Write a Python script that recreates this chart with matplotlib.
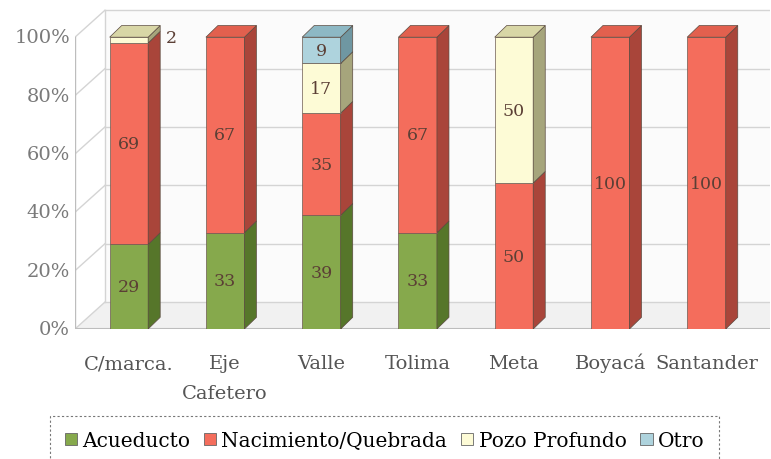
import matplotlib.pyplot as plt
from matplotlib.patches import Polygon, Rectangle
import numpy as np

regions = ['C/marca.', 'Eje\nCafetero', 'Valle', 'Tolima', 'Meta', 'Boyacá', 'Santander']
acueducto = [29, 33, 39, 33, 0, 0, 0]
nacimiento = [69, 67, 35, 67, 50, 100, 100]
pozo = [2, 0, 17, 0, 50, 0, 0]
otro = [0, 0, 9, 0, 0, 0, 0]
series = ['Acueducto', 'Nacimiento/Quebrada', 'Pozo Profundo', 'Otro']
yticks = [0, 20, 40, 60, 80, 100]

# front, side, top colours for each series
front = ['#86a94c', '#f46d5c', '#fdfbd6', '#aed3dd']
side = ['#56762a', '#a9453a', '#a6a57c', '#6f97a2']
top = ['#a3c262', '#e2604e', '#d8d6a6', '#8db8c4']

plt.rcParams['font.family'] = ['DejaVu Serif']

fig = plt.figure(figsize=(7.71, 4.60), dpi=100)
ax = fig.add_axes([75 / 771, 130 / 460, 695 / 771, 321 / 460])
ax.set_xlim(-0.56, 6.66)
ax.set_ylim(0, 110)
ax.axis('off')

wx, wy = 0.31, 9.2   # back wall offset
bw = 0.40            # bar width
dx, dy = 0.125, 4.0  # bar depth
x0 = -0.56

# walls and floor
grid = '#d4d4d4'
ax.add_patch(Polygon([(x0, 0), (x0 + wx, wy), (6.66, wy), (6.66, 0)],
                     closed=True, fc='#f1f1f1', ec='none', zorder=0))
ax.add_patch(Rectangle((x0 + wx, wy), 6.66 - x0 - wx, 100, fc='#fbfbfb', ec='none', zorder=0))
for v in yticks:
    ax.plot([x0, x0 + wx], [v, v + wy], color=grid, lw=1, zorder=1)
    ax.plot([x0 + wx, 6.66], [v + wy, v + wy], color=grid, lw=1, zorder=1)
    ax.text(x0 - 0.05, v, f'{v}%', ha='right', va='center', fontsize=14, color='#7a7a7a')
ax.plot([x0 + wx, x0 + wx], [wy, 100 + wy], color=grid, lw=1, zorder=1)
ax.plot([x0, x0], [0, 100], color='#bdbdbd', lw=1, zorder=1)
ax.plot([x0, 6.66], [0, 0], color='#bdbdbd', lw=1.5, zorder=1)
ax.plot([x0, 6.66], [-1.2, -1.2], color='#e2e2e2', lw=2, zorder=1)

data = [acueducto, nacimiento, pozo, otro]
x = np.arange(len(regions))
for i in x:
    base = 0
    left = i - bw / 2
    right = i + bw / 2
    last = None
    for s, vals in enumerate(data):
        v = vals[i]
        if v == 0:
            continue
        ax.add_patch(Rectangle((left, base), bw, v, fc=front[s], ec='#6b5a50', lw=0.5, zorder=3))
        ax.add_patch(Polygon([(right, base), (right + dx, base + dy), (right + dx, base + v + dy), (right, base + v)],
                             closed=True, fc=side[s], ec='#5a4a40', lw=0.5, zorder=3))
        if v >= 5:
            ax.text(i, base + v / 2, str(v), ha='center', va='center', fontsize=12.5, color='#5b3f35', zorder=5)
        else:
            ax.text(right + dx + 0.06, base + v / 2 + 1, str(v), ha='left', va='center', fontsize=12.5,
                    color='#5b3f35', zorder=5)
        base += v
        last = s
    ax.add_patch(Polygon([(left, base), (left + dx, base + dy), (right + dx, base + dy), (right, base)],
                         closed=True, fc=top[last], ec='#5a4a40', lw=0.5, zorder=3))
    for k, line in enumerate(regions[i].split('\n')):
        ax.text(i, -13.5 - k * 10.3, line, ha='center', va='baseline', fontsize=14, color='#555555')

handles = [Rectangle((0, 0), 1, 1, fc=front[s], ec='#666666', lw=0.6) for s in range(4)]
leg = fig.legend(handles, series, loc='upper left', bbox_to_anchor=(50 / 771, 1 - 417 / 460),
                 ncol=4, fontsize=14.5, frameon=True, fancybox=False, handlelength=0.6, handleheight=0.6,
                 handletextpad=0.25, columnspacing=0.7, borderpad=0.75, borderaxespad=0)
fr = leg.get_frame()
fr.set_linestyle((0, (2, 2)))
fr.set_edgecolor('#555555')
fr.set_linewidth(0.8)

fig.savefig('out.png', dpi=100)
